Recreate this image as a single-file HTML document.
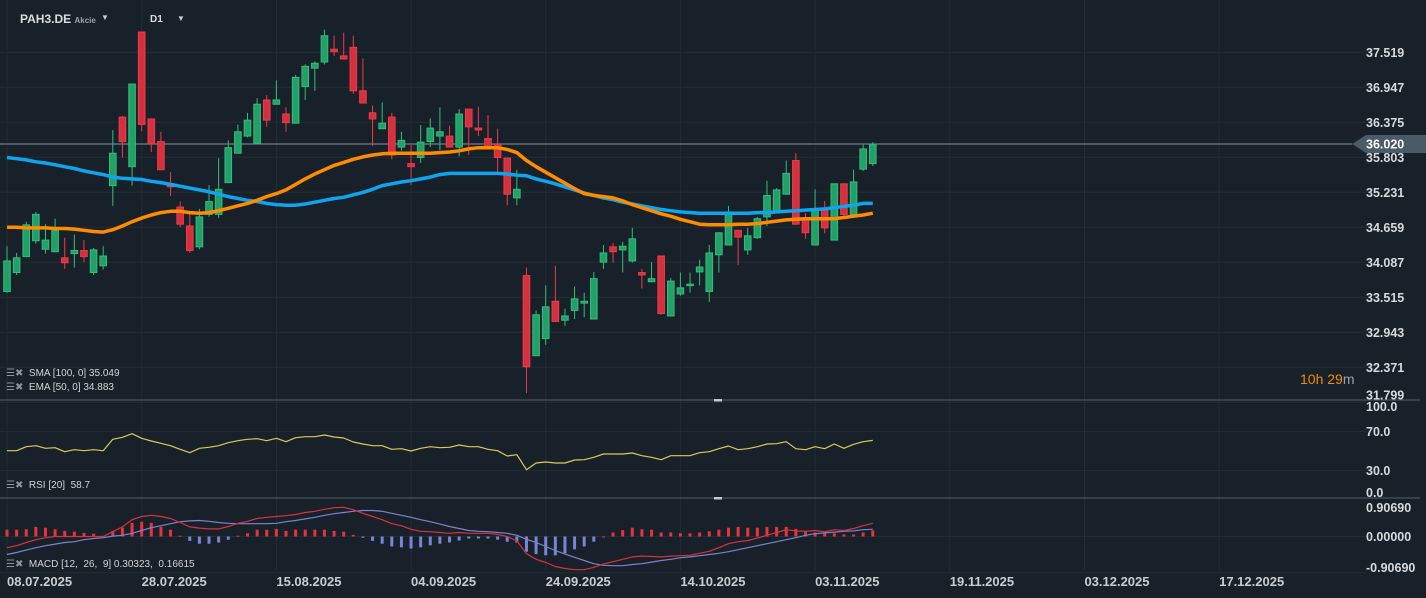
<!DOCTYPE html>
<html><head><meta charset="utf-8">
<style>
html,body{margin:0;padding:0;background:#18212a;}
svg{display:block;font-family:"Liberation Sans",Arial,sans-serif;}
</style></head>
<body>
<svg id="chart" width="1426" height="598" viewBox="0 0 1426 598" xmlns="http://www.w3.org/2000/svg">
<rect x="0" y="0" width="1426" height="598" fill="#18212a"/>
<g id="grid"></g>
<g id="marks"></g>
<g id="overlay"></g>
</svg>
<script>
const opens=[33.61,33.92,34.18,34.44,34.30,34.26,34.16,34.23,34.28,33.92,34.03,35.34,36.46,35.65,37.85,36.43,36.06,35.35,34.99,34.68,34.34,34.87,34.87,35.39,35.87,36.15,36.03,36.74,36.67,36.51,36.36,36.96,37.26,37.36,37.57,37.46,37.60,36.89,36.53,36.27,36.46,35.97,35.70,35.80,36.06,36.15,36.15,35.97,36.59,36.28,36.11,36.01,35.79,35.14,33.87,32.56,32.84,33.45,33.14,33.30,33.42,33.16,34.09,34.34,34.29,34.11,33.92,33.77,34.19,33.21,33.57,33.71,33.93,33.61,34.21,34.37,34.61,34.29,34.49,34.83,34.92,35.20,35.75,34.81,34.37,34.94,34.45,35.37,34.87,35.61,35.70];
const highs=[34.35,34.24,34.75,34.91,34.71,34.80,34.49,34.54,34.45,34.32,34.35,36.25,36.48,37.00,37.85,36.44,36.22,35.56,35.08,34.89,34.96,35.35,35.79,36.08,36.34,36.53,36.77,36.82,37.06,36.62,37.15,37.32,37.37,37.89,37.79,37.84,37.79,37.42,36.65,36.70,36.53,36.22,36.01,36.33,36.44,36.62,36.32,36.59,36.59,36.63,36.49,36.27,35.79,35.60,34.00,33.30,33.71,34.03,33.33,33.69,33.59,33.93,34.37,34.40,34.42,34.65,33.98,34.09,34.19,33.83,33.92,33.92,34.13,34.37,34.57,35.01,34.61,34.65,34.83,35.42,35.30,35.75,35.87,34.89,35.28,35.09,35.37,35.37,35.60,36.01,36.05];
const lows=[33.59,33.88,34.18,34.39,34.23,34.26,33.98,34.00,34.09,33.88,33.97,35.01,35.80,35.34,36.23,35.89,35.60,35.17,34.66,34.24,34.30,34.83,34.81,35.39,35.87,36.13,36.03,36.30,36.67,36.22,36.36,36.74,36.89,37.32,37.46,37.41,36.84,36.69,35.99,36.27,35.77,35.91,35.35,35.71,35.97,35.92,35.97,35.82,35.84,36.15,35.97,35.54,35.02,35.02,31.95,32.56,32.74,33.12,33.05,33.16,33.19,33.16,33.98,34.08,33.92,34.08,33.66,33.77,33.23,33.21,33.54,33.59,33.71,33.44,33.92,34.37,34.04,34.21,34.47,34.68,34.89,35.20,34.70,34.47,34.37,34.56,34.45,34.85,34.87,35.58,35.66];
const closes=[34.11,34.16,34.70,34.87,34.45,34.61,34.08,34.28,34.18,34.29,34.19,35.87,36.06,37.00,36.34,36.03,35.60,35.32,34.71,34.28,34.83,35.08,35.28,35.96,36.22,36.41,36.67,36.41,36.74,36.37,37.11,37.29,37.34,37.79,37.53,37.41,36.89,36.69,36.43,36.36,35.84,36.08,35.65,36.05,36.28,36.22,35.97,36.51,36.30,36.25,35.97,35.80,35.20,35.28,32.38,33.23,33.36,33.12,33.21,33.49,33.45,33.82,34.24,34.26,34.35,34.47,33.88,33.82,33.25,33.78,33.67,33.73,34.01,34.24,34.57,34.91,34.50,34.52,34.80,35.18,35.27,35.54,34.71,34.57,34.94,34.65,35.37,34.87,35.40,35.94,36.01];
const sma100=[35.80,35.78,35.76,35.73,35.71,35.68,35.65,35.62,35.58,35.55,35.52,35.48,35.46,35.45,35.44,35.41,35.39,35.36,35.33,35.30,35.27,35.24,35.20,35.16,35.13,35.10,35.08,35.05,35.03,35.02,35.02,35.04,35.07,35.10,35.13,35.15,35.19,35.23,35.28,35.34,35.37,35.40,35.42,35.45,35.48,35.52,35.54,35.54,35.54,35.54,35.54,35.54,35.53,35.51,35.50,35.45,35.41,35.37,35.32,35.27,35.22,35.18,35.14,35.11,35.07,35.04,35.01,34.98,34.95,34.93,34.91,34.90,34.89,34.89,34.89,34.89,34.89,34.89,34.90,34.90,34.91,34.92,34.93,34.94,34.95,34.96,34.98,35.00,35.02,35.05,35.05];
const ema50=[34.66,34.66,34.65,34.65,34.65,34.64,34.64,34.63,34.61,34.59,34.58,34.62,34.68,34.75,34.81,34.86,34.90,34.92,34.92,34.90,34.89,34.90,34.93,34.97,35.01,35.05,35.10,35.16,35.21,35.27,35.36,35.45,35.53,35.60,35.67,35.72,35.77,35.81,35.84,35.86,35.87,35.87,35.87,35.87,35.87,35.88,35.89,35.91,35.94,35.96,35.96,35.96,35.93,35.88,35.75,35.65,35.56,35.47,35.38,35.29,35.21,35.18,35.16,35.14,35.09,35.03,34.98,34.93,34.88,34.84,34.79,34.75,34.71,34.70,34.70,34.70,34.71,34.71,34.72,34.74,34.76,34.78,34.79,34.80,34.80,34.80,34.80,34.82,34.84,34.86,34.89];
const rsi=[50.3,50.3,54.4,55.4,52.8,53.4,49.3,51.3,50.3,51.3,50.3,61.9,64.0,67.7,63.0,60.2,57.9,55.4,51.7,48.3,52.8,53.8,55.4,58.5,60.5,61.9,62.6,60.5,63.0,59.5,63.6,64.6,64.6,66.3,64.3,63.3,59.2,57.1,55.4,55.4,51.7,52.3,50.0,52.8,54.4,53.4,53.8,56.1,54.4,54.4,51.7,50.3,44.9,46.2,30.9,37.8,38.8,37.8,37.8,40.8,41.1,43.6,46.9,46.9,46.9,48.0,45.2,43.6,41.1,45.2,45.2,45.2,48.3,49.3,52.3,55.1,51.3,52.3,54.4,57.1,57.4,59.5,52.3,51.3,54.4,52.3,57.1,52.8,56.8,59.5,60.8];
const macdLine=[-0.28,-0.23,-0.15,-0.08,-0.03,0,0,0,0,0,0,0.12,0.24,0.42,0.50,0.53,0.50,0.45,0.35,0.24,0.21,0.19,0.19,0.25,0.33,0.38,0.45,0.48,0.50,0.52,0.55,0.60,0.63,0.68,0.72,0.73,0.67,0.58,0.50,0.42,0.32,0.27,0.18,0.13,0.12,0.10,0.08,0.10,0.08,0.08,0.08,0.05,0,-0.11,-0.43,-0.57,-0.65,-0.75,-0.80,-0.83,-0.83,-0.77,-0.69,-0.63,-0.57,-0.51,-0.49,-0.50,-0.51,-0.49,-0.48,-0.47,-0.42,-0.37,-0.28,-0.18,-0.13,-0.10,-0.04,0.03,0.10,0.17,0.14,0.13,0.15,0.12,0.17,0.15,0.20,0.27,0.33];
const signalLine=[-0.45,-0.40,-0.34,-0.28,-0.23,-0.19,-0.15,-0.13,-0.08,-0.05,-0.03,0.01,0.03,0.08,0.15,0.22,0.27,0.32,0.37,0.39,0.40,0.38,0.35,0.33,0.32,0.32,0.32,0.32,0.33,0.37,0.40,0.44,0.48,0.53,0.57,0.60,0.63,0.65,0.65,0.63,0.58,0.53,0.48,0.42,0.37,0.31,0.25,0.20,0.15,0.13,0.12,0.10,0.08,0.03,-0.07,-0.15,-0.25,-0.35,-0.44,-0.52,-0.60,-0.68,-0.72,-0.73,-0.73,-0.70,-0.68,-0.64,-0.60,-0.57,-0.53,-0.51,-0.48,-0.45,-0.42,-0.38,-0.33,-0.28,-0.23,-0.18,-0.13,-0.08,-0.03,0.03,0.07,0.09,0.11,0.13,0.14,0.17,0.18];
const histogram=[0.17,0.17,0.18,0.24,0.22,0.18,0.14,0.12,0.09,0.07,0.01,0.14,0.22,0.34,0.37,0.34,0.24,0.17,0.02,-0.11,-0.18,-0.18,-0.15,-0.08,0.02,0.08,0.17,0.17,0.19,0.14,0.17,0.17,0.17,0.17,0.14,0.12,0.04,-0.03,-0.11,-0.18,-0.25,-0.27,-0.30,-0.27,-0.22,-0.18,-0.15,-0.10,-0.05,-0.05,-0.05,-0.08,-0.13,-0.15,-0.38,-0.44,-0.47,-0.47,-0.42,-0.32,-0.25,-0.13,0.0,0.10,0.16,0.22,0.18,0.17,0.10,0.10,0.08,0.08,0.10,0.13,0.17,0.22,0.24,0.22,0.22,0.24,0.24,0.24,0.19,0.14,0.10,0.08,0.08,0.05,0.05,0.10,0.15];
const priceTicks=[37.519,36.947,36.375,35.803,35.231,34.659,34.087,33.515,32.943,32.371,31.799];
const rsiTicks=[100,70,30,0];
const macdTicks=[0.9069,0,-0.9069];
const macdTickLabels=["0.90690","0.00000","-0.90690"];
const dateLabels=["08.07.2025","28.07.2025","15.08.2025","04.09.2025","24.09.2025","14.10.2025","03.11.2025","19.11.2025","03.12.2025","17.12.2025"];
const dateIdx=[0,14,28,42,56,70,84,98,112,126];
const lastPrice=36.02;

const NS="http://www.w3.org/2000/svg";
const xI=i=>7+9.62*i;
const yP=p=>52.3+(37.519-p)*61.19;
const yR=v=>500-v*0.98;
const yM=v=>536.5-v*40;
function mk(tag,attrs,parent,text){const e=document.createElementNS(NS,tag);for(const k in attrs)e.setAttribute(k,attrs[k]);if(text!==undefined)e.textContent=text;parent.appendChild(e);return e;}
const grid=document.getElementById('grid'),marks=document.getElementById('marks'),ov=document.getElementById('overlay');
const GC="#232d36",PLOT_R=1366;

dateIdx.forEach((di,k)=>{
  const x=xI(di);
  const l=mk('line',{x1:x,y1:0,x2:x,y2:570,stroke:GC,'stroke-width':1},grid);
  
  
  const t=mk('text',{x:x,y:586,fill:'#c9cdd2','font-size':13,'font-weight':'bold'},ov,dateLabels[k]);
  
  
});
priceTicks.forEach((p,k)=>{
  const y=yP(p);
  const l=mk('line',{x1:0,y1:y,x2:PLOT_R,y2:y,stroke:GC,'stroke-width':1},grid);
  
  
  const ty=k===priceTicks.length-1?y-3:y+4.5;
  const t=mk('text',{x:1366,y:ty,fill:'#d6dade','font-size':12.5,'font-weight':'bold'},ov,p.toFixed(3));
  
  
});
rsiTicks.forEach(v=>{
  const y=yR(v);
  if(v>0&&v<100){const l=mk('line',{x1:0,y1:y,x2:PLOT_R,y2:y,stroke:GC,'stroke-width':1},grid);
  
  }
  const ty=v===100?y+9:(v===0?y-3:y+4.5);
  const t=mk('text',{x:1366,y:ty,fill:'#d6dade','font-size':12.5,'font-weight':'bold'},ov,v.toFixed(1));
  
  
});
macdTicks.forEach((v,k)=>{
  const y=yM(v);
  if(k>0){const l=mk('line',{x1:0,y1:y,x2:PLOT_R,y2:y,stroke:GC,'stroke-width':1},grid);
  
  }
  const ty=k===0?y+12:(k===2?y-1:y+4.5);
  const t=mk('text',{x:1366,y:ty,fill:'#d6dade','font-size':12.5,'font-weight':'bold'},ov,macdTickLabels[k]);
  
  
});
[400,498].forEach(y=>{
  const l=mk('line',{x1:0,y1:y,x2:1420,y2:y,stroke:'#4a545e','stroke-width':1.2},grid);
  
  
  const h=mk('rect',{x:714,y:y-1,width:8,height:2.5,fill:'#c8c8c8'},ov);
  
  
});
{const y=yP(lastPrice);
const l=mk('line',{x1:0,y1:y,x2:1352,y2:y,stroke:'#4d5b66','stroke-width':2},marks);

}

for(let i=0;i<closes.length;i++){
  const up=closes[i]>=opens[i];
  const x=xI(i);
  const g=mk('g',{},marks);
  
  
  const col=up?'#2fbf7a':'#f03a4a', fill=up?'#23a06a':'#d3313f';
  mk('line',{x1:x,y1:yP(highs[i]),x2:x,y2:yP(lows[i]),stroke:col,'stroke-width':1},g);
  const top=yP(Math.max(opens[i],closes[i])),bot=yP(Math.min(opens[i],closes[i]));
  mk('rect',{x:x-3.3,y:top,width:6.6,height:Math.max(bot-top,1.5),fill:fill,stroke:col,'stroke-width':1},g);
}
function poly(arr,fy,color,w,name){
  const pts=arr.map((v,i)=>xI(i).toFixed(1)+','+fy(v).toFixed(1)).join(' ');
  const p=mk('polyline',{points:pts,fill:'none',stroke:color,'stroke-width':w,'stroke-linejoin':'round'},marks);
  
  
}
poly(sma100,yP,'#0ea5ee',3.5,'sma-100-line');
poly(ema50,yP,'#ff8c00',3.5,'ema-50-line');
poly(rsi,yR,'#d6cc58',1.2,'rsi-line');
histogram.forEach((v,i)=>{
  const y0=yM(0),y1=yM(v);
  const r=mk('rect',{x:xI(i)-1.5,y:Math.min(y0,y1),width:3,height:Math.max(Math.abs(y1-y0),1),fill:v>=0?'#e8323c':'#7a84d4'},marks);
  
  
});
poly(signalLine,yM,'#7a84cc',1.2,'macd-signal-line');
poly(macdLine,yM,'#d8323c',1.2,'macd-line');

{const y=yP(lastPrice);
const g=mk('g',{},ov);


mk('polygon',{points:`1352,${y} 1366,${y-9} 1434,${y-9} 1434,${y+9} 1366,${y+9}`,fill:'#4a5a66'},g);
mk('text',{x:1366,y:y+4.5,fill:'#ffffff','font-size':12.5,'font-weight':'bold'},g,lastPrice.toFixed(3));}
</script>
<div style="position:absolute;left:0;top:0;width:1426px;height:598px;pointer-events:none;font-family:'Liberation Sans',Arial,sans-serif;">
  <div style="position:absolute;left:20px;top:12px;color:#d8dce0;font-size:12px;font-weight:bold;pointer-events:auto;">PAH3.DE <span style="font-size:8px;color:#9aa3ab;font-weight:bold;">Akcie</span><span style="position:absolute;left:81px;top:1px;font-size:8px;color:#c8ccd0;">▼</span></div>
  <div style="position:absolute;left:150px;top:14px;color:#d8dce0;font-size:10px;font-weight:bold;pointer-events:auto;">D1<span style="position:absolute;left:27px;top:0;font-size:8px;color:#c8ccd0;">▼</span></div>
  <div style="position:absolute;left:6px;top:368px;color:#d0d4d8;font-size:10px;"><span style="color:#8a949c;">☰✖</span>&nbsp; SMA [100, 0] 35.049</div>
  <div style="position:absolute;left:6px;top:382px;color:#d0d4d8;font-size:10px;"><span style="color:#8a949c;">☰✖</span>&nbsp; EMA [50, 0] 34.883</div>
  <div style="position:absolute;left:6px;top:480px;color:#d0d4d8;font-size:10px;"><span style="color:#8a949c;">☰✖</span>&nbsp; RSI [20]&nbsp; 58.7</div>
  <div style="position:absolute;left:6px;top:559px;color:#d0d4d8;font-size:10px;"><span style="color:#8a949c;">☰✖</span>&nbsp; MACD [12,&nbsp; 26,&nbsp; 9] 0.30323,&nbsp; 0.16615</div>
  <div style="position:absolute;left:1300px;top:371px;font-size:14px;color:#f08c00;">10h <span>29</span><span style="color:#9aa3ab;">m</span></div>
</div>
</body></html>
